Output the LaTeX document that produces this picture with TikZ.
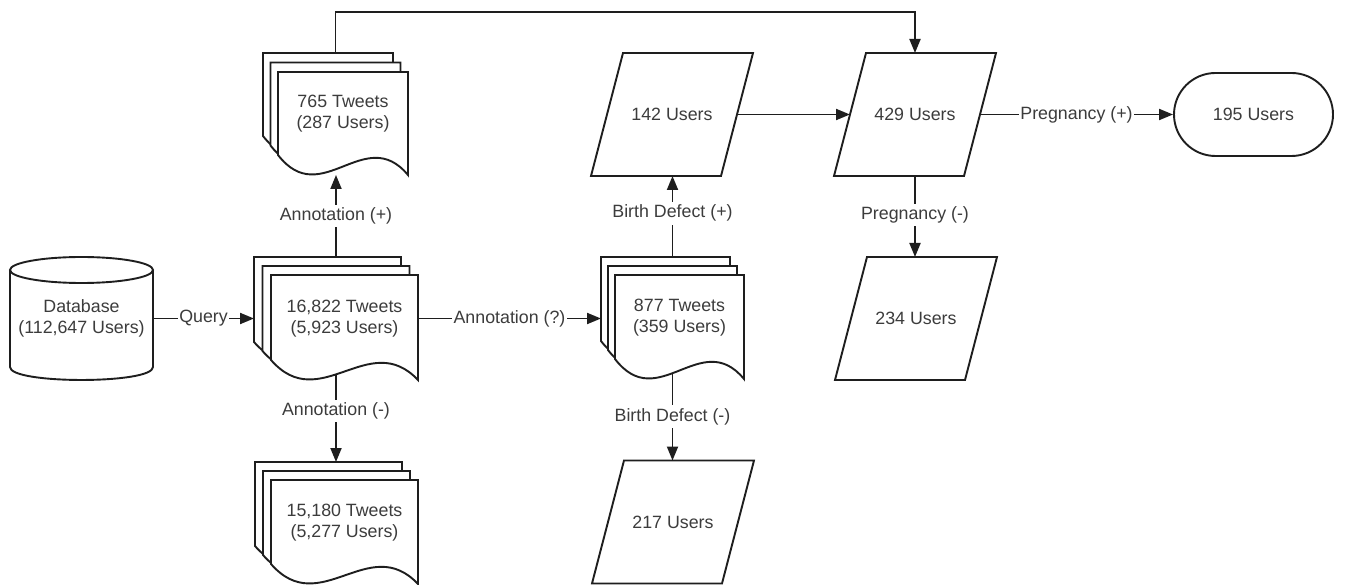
\documentclass[tikz,border=0pt]{standalone}
\usepackage{fontspec}
\setmainfont{Liberation Sans}
\usetikzlibrary{arrows.meta,calc}
\definecolor{ln}{HTML}{1E1E1E}
\definecolor{tx}{HTML}{3C3C3C}
\tikzset{
 line/.style={draw=ln, line width=1.9pt},
 sheet/.style={line, fill=white, line join=miter},
 txt/.style={text=tx, font=\fontsize{17.8}{21}\selectfont, align=center, inner sep=0pt},
 box/.style={draw=none, inner sep=0pt, outer sep=0pt, rectangle},
 arr/.style={line, -{Triangle[length=14pt,width=11pt]}},
 lbl/.style={txt, fill=white, inner xsep=1.5pt, inner ysep=3pt},
}
\newcommand\sheetpath[4]{%
 \path[sheet] ({#1},{#2}) -- ({#3},{#2}) -- ({#3},{#4})
  .. controls ({(#1)+2*((#3)-(#1))/3},{(#4)-52}) and ({(#1)+((#3)-(#1))/3},{(#4)+36}) .. ({#1},{(#4)-20}) -- cycle;}
\newcommand\docstack[8]{%
  \sheetpath{(#2)-2*(#6)}{(#3)-2*(#7)}{(#4)-2*(#6)}{(#5)-2*(#7)}
  \sheetpath{(#2)-(#6)}{(#3)-(#7)}{(#4)-(#6)}{(#5)-(#7)}
  \sheetpath{#2}{#3}{#4}{#5}
  \node[box, minimum width={((#4)-(#2)+2*(#6))*1pt}, minimum height={((#5)-(#3)+2*(#7))*1pt}] (#1) at ({((#2)-2*(#6)+(#4))/2},{((#3)-2*(#7)+(#5))/2}) {};
  \node[txt] (#1t) at ({((#2)+(#4))/2},{((#3)-2*(#7)+(#5))/2}) {#8};
}
\newcommand\para[4]{%
  \node[box, minimum width=130pt, minimum height=123pt] (#1) at (#2,#3) {};
  \path[sheet] ([xshift=16pt]#1.north west) -- ([xshift=16pt]#1.north east) -- ([xshift=-16pt]#1.south east) -- ([xshift=-16pt]#1.south west) -- cycle;
  \node[txt] (#1t) at (#1.center) {#4};
}
\begin{document}
\begin{tikzpicture}[x=1pt,y=-1pt]
\useasboundingbox[fill=white] (0,0) rectangle (1350,585);
% database cylinder
\node[box, minimum width=143pt, minimum height=123pt] (db) at (81.5,318.5) {};
\path[sheet] (10,270) -- (10,367) .. controls (10,384.3) and (153,384.3) .. (153,367) -- (153,270);
\path[sheet] (81.5,270) ellipse (71.5 and 13);
\node[txt] (dbt) at (81.5,318.5) {Database\\(112,647 Users)};
% document stacks
\docstack{d16822}{271}{275}{418}{380}{8.5}{9}{16,822 Tweets\\(5,923 Users)}
\docstack{d765}{278}{72}{408}{175}{7.5}{9.5}{765 Tweets\\(287 Users)}
\docstack{d15180}{271}{480}{418}{584}{8}{9}{15,180 Tweets\\(5,277 Users)}
\docstack{d877}{615}{275}{744}{379}{7}{9}{877 Tweets\\(359 Users)}
% parallelograms
\para{p142}{672}{114.5}{142 Users}
\para{p429}{915}{114.5}{429 Users}
\para{p234}{916}{318.5}{234 Users}
\para{p217}{673}{522}{217 Users}
% terminator
\node[line, fill=white, rounded corners=41.5pt, minimum width=159pt, minimum height=83pt, inner sep=0pt] (t195) at (1253.5,114.5) {};
\node[txt] (t195t) at (t195.center) {195 Users};
% connectors
\draw[arr] (db.east) -- node[lbl, midway] {Query} (d16822.west);
\draw[arr] (d16822.east) -- node[lbl, midway] {Annotation (?)} (d16822.east -| d877.west);
\draw[arr] (d16822.north) -- node[lbl, pos=0.5] {Annotation (+)} (d16822.north |- d765.south);
\draw[arr] ([yshift=6pt]d16822.south) -- node[lbl, pos=0.42] {Annotation (-)} (d16822.south |- d15180.north);
\draw[arr] (d877.north) -- node[lbl, pos=0.54] {Birth Defect (+)} (d877.north |- p142.south);
\draw[arr] ([yshift=6pt]d877.south) -- node[lbl, pos=0.5] {Birth Defect (-)} (d877.south |- p217.north);
\draw[arr] (p142.east) -- (p429.west);
\draw[arr] (p429.east) -- node[lbl, midway] {Pregnancy (+)} (t195.west);
\draw[arr] (p429.south) -- node[lbl, pos=0.48] {Pregnancy (-)} (p429.south |- p234.north);
\draw[arr] (d765.north) -- ++(0,-41) -| (p429.north);
\end{tikzpicture}
\end{document}
